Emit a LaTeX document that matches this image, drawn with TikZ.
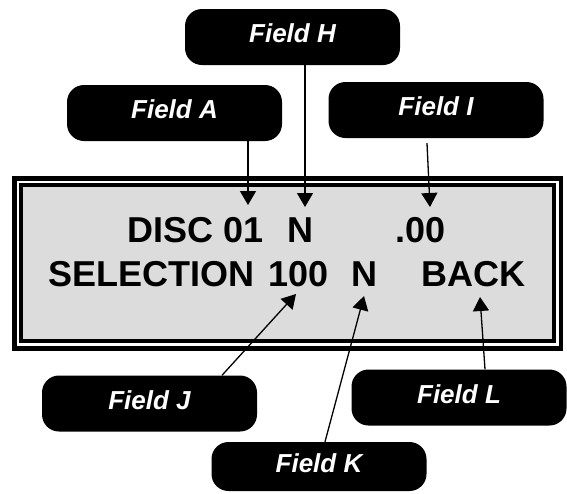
\documentclass[tikz,border=0pt]{standalone}
\usepackage{fontspec}
\setmainfont{Liberation Sans}
\usetikzlibrary{arrows.meta,calc}
\definecolor{lcdgrey}{RGB}{220,220,220}
\begin{document}
\begin{tikzpicture}[x=1pt,y=-1pt,
  field/.style={fill=black, rounded corners=17pt, minimum width=215pt, minimum height=56pt,
    text=white, font=\fontsize{26}{30}\selectfont\bfseries\itshape,
    text height=19pt, text depth=8pt, inner sep=0pt},
  lcd/.style={anchor=base west, inner sep=0pt, font=\fontsize{36}{40}\selectfont\bfseries},
  ptr/.style={line width=1.3pt, -{Triangle[length=14pt,width=16pt]}}]
\useasboundingbox (0,0) rectangle (567,493);

% LCD frame
\draw[line width=4.5pt] (14.6,178.3) rectangle (561,348.4);
\draw[line width=3.8pt, fill=lcdgrey] (20.8,185.3) rectangle (553.7,341.3);

% display text
\node[lcd] (w1) at (127,242) {DISC 01};
\node[lcd] (w2) at (287,242) {N};
\node[lcd] (w3) at (395,242) {.00};
\node[lcd] (w4) at (48,286) {SELECTION};
\node[lcd] (w5) at (268,286) {100};
\node[lcd] (w6) at (351,286) {N};
\node[lcd] (w7) at (421,286) {BACK};

% field labels
\node[field] (H) at (292.5,37) {Field H};
\node[field] (A) at (174.5,113) {Field A};
\node[field] (I) at (436,110) {Field I};
\node[field] (J) at (149.5,403.5) {Field J};
\node[field, minimum height=49pt] (K) at (319,466.5) {Field K};
\node[field] (L) at (459,397.5) {Field L};

% arrow tips
\coordinate (tA) at (248,205);
\coordinate (tH) at (305,207);
\coordinate (tI) at (430,207);
\coordinate (tJ) at (296,294);
\coordinate (tK) at (364,296);
\coordinate (tL) at (480,297);

\draw[ptr] (tA |- A.south) -- (tA);
\draw[ptr] (tH |- H.south) -- (tH);
\draw[ptr] ($(I.south)+(-9,5)$) -- (tI);
\draw[ptr] ($(J.north)+(72.5,0)$) -- (tJ);
\draw[ptr] ($(K.north)+(6,0)$) -- (tK);
\draw[ptr] ($(L.north)+(26,0)$) -- (tL);
\end{tikzpicture}
\end{document}
